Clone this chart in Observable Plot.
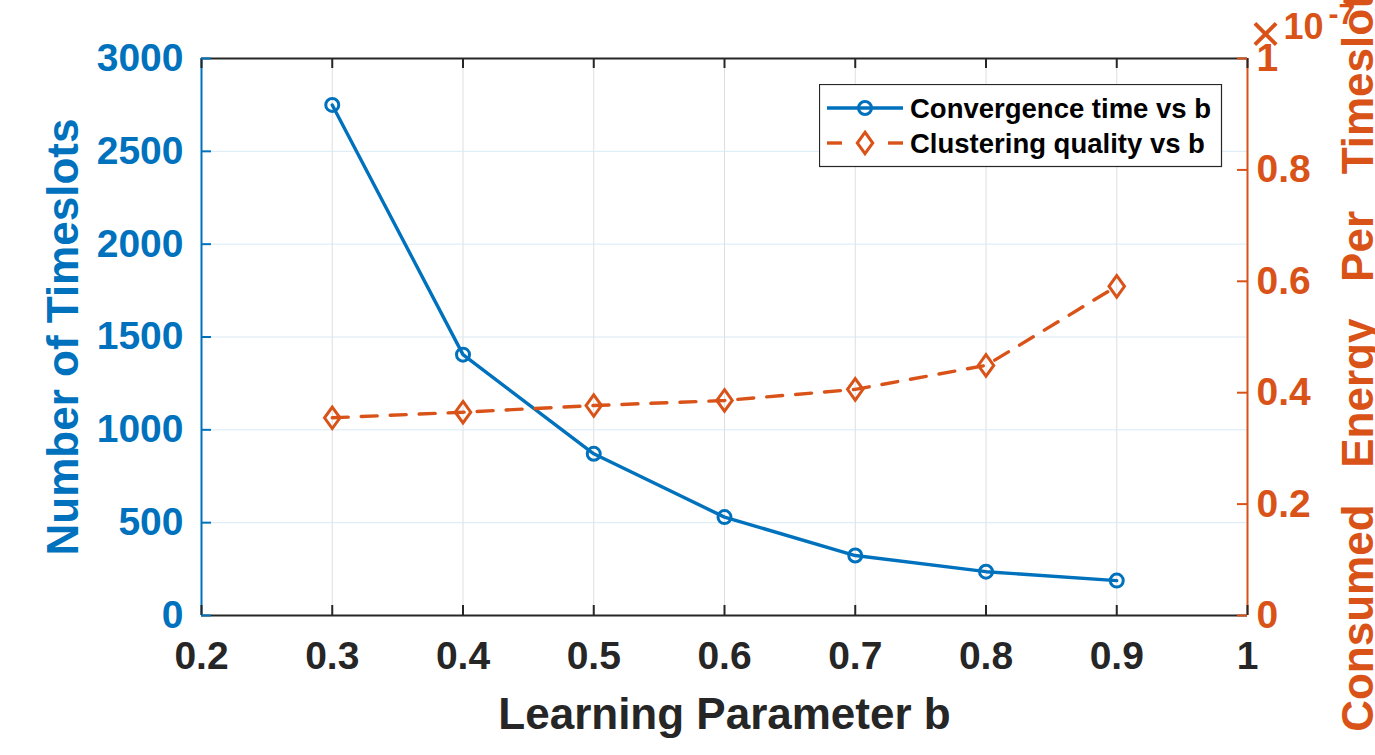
<!DOCTYPE html>
<html>
<head>
<meta charset="utf-8">
<script src="https://cdn.jsdelivr.net/npm/d3@7"></script>
<script src="https://cdn.jsdelivr.net/npm/@observablehq/plot@0.6"></script>
<style>
  body { margin: 0; background: #fff; }
  #wrap { position: relative; width: 1375px; height: 755px; overflow: hidden; background: #fff;
          font-family: "Liberation Sans", Arial, Helvetica, sans-serif; }
  #legend { position: absolute; left: 819px; top: 84px; }
</style>
</head>
<body>
<div id="wrap"></div>
<script>
// ---- data ----
const bValues = [0.3, 0.4, 0.5, 0.6, 0.7, 0.8, 0.9];
const convergenceTime = [2750, 1405, 871, 530, 323, 236, 188];
const clusteringQuality = [0.355, 0.365, 0.377, 0.386, 0.406, 0.449, 0.591]; // x 1e-7
const xTicks = [0.2, 0.3, 0.4, 0.5, 0.6, 0.7, 0.8, 0.9, 1];
const leftTicks = [0, 500, 1000, 1500, 2000, 2500, 3000];
const rightTicks = [0, 0.2, 0.4, 0.6, 0.8, 1];
const xDomain = [0.2, 1];
const leftDomain = [0, 3000];
const rightDomain = [0, 1];
const seriesNames = ["Convergence time vs b", "Clustering quality vs b"];
const xLabel = "Learning Parameter b";
const leftLabel = "Number of Timeslots";
const rightLabel = "Consumed\u00a0\u00a0\u00a0Energy\u00a0\u00a0\u00a0Per\u00a0\u00a0\u00a0Timeslot";
const exponentBase = "10";
const exponentPower = "-7";

// ---- style ----
const BLUE = "#0072BD", ORANGE = "#D95319", DARK = "#262626";
const W = 1375, H = 755, mL = 201, mR = 128, mT = 58, mB = 140;
const innerW = W - mL - mR, innerH = H - mT - mB;
const k = leftDomain[1] / rightDomain[1];
const FONT = "'Liberation Sans', Arial, Helvetica, sans-serif";

const conv = bValues.map((b, i) => ({b, v: convergenceTime[i]}));
const qual = bValues.map((b, i) => ({b, v: clusteringQuality[i] * k}));

const tallDiamond = {
  draw(context, size) {
    const r = Math.sqrt(size / Math.PI);
    const hy = r, hx = r * 0.72;
    context.moveTo(0, -hy); context.lineTo(hx, 0); context.lineTo(0, hy); context.lineTo(-hx, 0); context.closePath();
  }
};

const chart = Plot.plot({
  width: W, height: H,
  marginLeft: mL, marginRight: mR, marginTop: mT, marginBottom: mB,
  style: {fontFamily: FONT, background: "white", overflow: "hidden"},
  x: {domain: xDomain, axis: null},
  y: {domain: leftDomain, axis: null},
  marks: [
    // grid
    Plot.ruleX(xTicks, {stroke: "#dedede", strokeWidth: 1}),
    Plot.ruleY(leftTicks, {stroke: "#d9eaf5", strokeWidth: 1}),
    // data
    Plot.line(conv, {x: "b", y: "v", stroke: BLUE, strokeWidth: 3.4}),
    Plot.dot(conv, {x: "b", y: "v", r: 6.5, stroke: BLUE, strokeWidth: 3, fill: "none"}),
    Plot.line(qual, {x: "b", y: "v", stroke: ORANGE, strokeWidth: 3.4, strokeDasharray: "16,13"}),
    Plot.dot(qual, {x: "b", y: "v", r: 10.75, symbol: tallDiamond, stroke: ORANGE, strokeWidth: 3, fill: "none"}),
    // frame
    Plot.ruleY([leftDomain[0]], {stroke: DARK, strokeWidth: 2}),
    Plot.ruleY([leftDomain[1]], {stroke: DARK, strokeWidth: 2}),
    Plot.ruleX([xDomain[0]], {stroke: BLUE, strokeWidth: 2}),
    Plot.ruleX([xDomain[1]], {stroke: ORANGE, strokeWidth: 2}),
    // ticks (inward)
    Plot.ruleX(xTicks, {insetTop: innerH - 10, stroke: DARK, strokeWidth: 2}),
    Plot.ruleX(xTicks, {insetBottom: innerH - 10, stroke: DARK, strokeWidth: 2}),
    Plot.ruleY(leftTicks, {insetRight: innerW - 10, stroke: BLUE, strokeWidth: 2}),
    Plot.ruleY(rightTicks.map(d => d * k), {insetLeft: innerW - 10, stroke: ORANGE, strokeWidth: 2}),
    // tick labels
    Plot.text(xTicks, {x: d => d, frameAnchor: "bottom", text: d => String(d), dy: 26, lineAnchor: "top",
      textAnchor: "middle", fontSize: 39, fontWeight: "bold", fill: DARK}),
    Plot.text(leftTicks, {y: d => d, frameAnchor: "left", text: d => String(d), dx: -18, textAnchor: "end",
      lineAnchor: "middle", fontSize: 39, fontWeight: "bold", fill: BLUE}),
    Plot.text(rightTicks, {y: d => d * k, frameAnchor: "right", text: d => String(d), dx: 9, textAnchor: "start",
      lineAnchor: "middle", fontSize: 39, fontWeight: "bold", fill: ORANGE}),
    // axis titles
    Plot.text([xLabel], {frameAnchor: "bottom", text: d => d, dy: 113, lineAnchor: "bottom", textAnchor: "middle",
      fontSize: 44, fontWeight: "bold", fill: DARK}),
    Plot.text([leftLabel], {frameAnchor: "left", text: d => d, dx: -124, rotate: -90, lineAnchor: "bottom",
      textAnchor: "middle", fontSize: 44, fontWeight: "bold", fill: BLUE}),
    Plot.text([rightLabel], {frameAnchor: "right", text: d => d, dx: 125, dy: 26, rotate: -90, lineAnchor: "bottom",
      textAnchor: "middle", fontSize: 44, fontWeight: "bold", fill: ORANGE}),
    // exponent
    Plot.text(["\u00d7"], {frameAnchor: "top-right", text: d => d, dx: 18, dy: -24, textAnchor: "middle",
      lineAnchor: "middle", fontSize: 54, fill: ORANGE}),
    Plot.text([exponentBase], {frameAnchor: "top-right", text: d => d, dx: 36, dy: -20, textAnchor: "start",
      lineAnchor: "bottom", fontSize: 36, fontWeight: "bold", fill: ORANGE}),
    Plot.text([exponentPower], {frameAnchor: "top-right", text: d => d, dx: 81, dy: -35, textAnchor: "start",
      lineAnchor: "bottom", fontSize: 30, fontWeight: "bold", fill: ORANGE})
  ]
});

const wrap = document.getElementById("wrap");
wrap.appendChild(chart);

// ---- legend ----
const lg = d3.select(wrap).append("svg").attr("id", "legend").attr("width", 405).attr("height", 85);
lg.append("rect").attr("x", 0.5).attr("y", 0.5).attr("width", 402).attr("height", 82)
  .attr("fill", "white").attr("stroke", DARK).attr("stroke-width", 1.2);
const rows = [24, 59];
lg.append("line").attr("x1", 8).attr("x2", 84).attr("y1", rows[0]).attr("y2", rows[0])
  .attr("stroke", BLUE).attr("stroke-width", 3.4);
lg.append("circle").attr("cx", 46).attr("cy", rows[0]).attr("r", 6.5)
  .attr("fill", "none").attr("stroke", BLUE).attr("stroke-width", 3);
[[8, 23], [69, 84]].forEach(([a, b]) => lg.append("line").attr("x1", a).attr("x2", b)
  .attr("y1", rows[1]).attr("y2", rows[1]).attr("stroke", ORANGE).attr("stroke-width", 3.4));
lg.append("path").attr("transform", `translate(46,${rows[1]})`)
  .attr("d", d3.symbol(tallDiamond, Math.PI * 10.75 * 10.75)())
  .attr("fill", "none").attr("stroke", ORANGE).attr("stroke-width", 3);
seriesNames.forEach((name, i) => lg.append("text").attr("x", 91).attr("y", rows[i]).attr("dy", "0.35em")
  .attr("font-family", FONT).attr("font-size", 27.5).attr("font-weight", "bold").attr("fill", "#000").text(name));
</script>
</body>
</html>
